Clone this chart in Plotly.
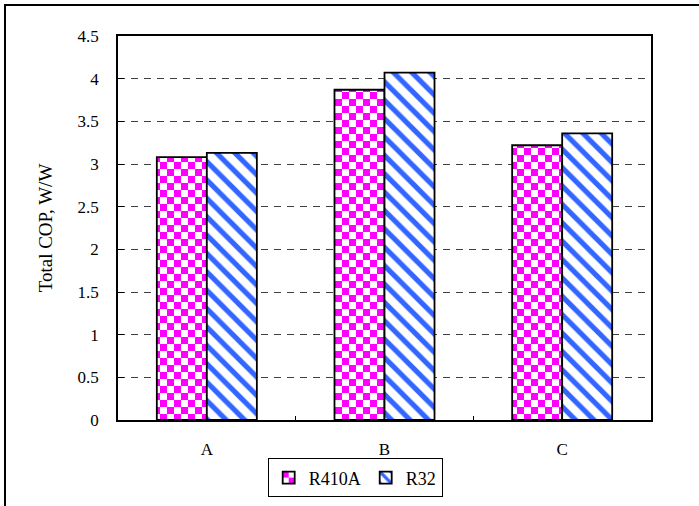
import plotly.graph_objects as go

categories = ["A", "B", "C"]
r410a_values = [3.08, 3.87, 3.22]
r32_values = [3.13, 4.07, 3.36]
series_names = ["R410A", "R32"]
y_tick_values = [0, 0.5, 1, 1.5, 2, 2.5, 3, 3.5, 4, 4.5]
y_tick_labels = ["0", "0.5", "1", "1.5", "2", "2.5", "3", "3.5", "4", "4.5"]
y_title = "Total COP, W/W"

FONT = "Liberation Serif"

fig = go.Figure()
fig.add_trace(go.Bar(
    x=categories, y=r410a_values, name=series_names[0],
    marker=dict(
        color="#FFFFFF",
        line=dict(color="black", width=1.8),
        pattern=dict(shape="+", fgcolor="#FF00FF", bgcolor="#FFFFFF",
                     size=7, solidity=0.5, fillmode="overlay", fgopacity=1),
    ),
))
fig.add_trace(go.Bar(
    x=categories, y=r32_values, name=series_names[1],
    marker=dict(
        color="#FFFFFF",
        line=dict(color="black", width=1.8),
        pattern=dict(shape="\\", fgcolor="#3366FF", bgcolor="#FFFFFF",
                     size=13, solidity=0.4, fillmode="overlay", fgopacity=1),
    ),
))

fig.update_layout(
    width=699, height=506,
    margin=dict(l=118, r=48, t=36, b=86, autoexpand=False),
    paper_bgcolor="white", plot_bgcolor="white",
    barmode="group", bargap=0.437, bargroupgap=0,
    font=dict(family=FONT, size=16, color="black"),
    showlegend=True,
    legend=dict(
        orientation="h", x=0.445, xanchor="center", y=-0.1, yanchor="top",
        bordercolor="black", borderwidth=1, bgcolor="white",
        font=dict(family=FONT, size=18), itemwidth=30,
    ),
    xaxis=dict(
        showline=True, linecolor="black", linewidth=1.5, mirror=True,
        ticks="inside", tickson="boundaries", ticklen=4, tickcolor="black",
        showgrid=False, tickfont=dict(family=FONT, size=17),
        ticklabelstandoff=13,
    ),
    yaxis=dict(
        range=[0, 4.5], tickvals=y_tick_values, ticktext=y_tick_labels,
        showline=True, linecolor="black", linewidth=1.5, mirror=True,
        ticks="inside", ticklen=6, tickcolor="black",
        showgrid=True, gridcolor="#404040", gridwidth=1, griddash="7px,6px",
        zeroline=False, tickfont=dict(family=FONT, size=17),
        ticklabelstandoff=14,
        title=dict(text=y_title, font=dict(family=FONT, size=19), standoff=20),
        automargin=False,
    ),
    shapes=[dict(
        type="rect", xref="paper", yref="paper",
        x0=(5 - 118) / 533, x1=1.2, y0=-0.5, y1=(420 - 5) / 384,
        line=dict(color="black", width=2), fillcolor="rgba(0,0,0,0)", layer="above",
    )],
)

post_script = """
document.body.style.margin = '0';
(function(){
  var ns = 'http://www.w3.org/2000/svg';
  function isMagenta(p){
    var h = (p.outerHTML || '').toLowerCase().replace(/\\s/g, '');
    return h.indexOf('ff00ff') >= 0 || h.indexOf('255,0,255') >= 0;
  }
  function fix(){
    var pats = document.getElementsByTagName('pattern');
    for(var i = 0; i < pats.length; i++){
      var p = pats[i];
      if(p.getAttribute('data-checker') === '1') continue;
      if(!isMagenta(p)) continue;
      var s = 7;
      while(p.firstChild) p.removeChild(p.firstChild);
      p.setAttribute('width', 2*s);
      p.setAttribute('height', 2*s);
      p.setAttribute('data-checker', '1');
      var rects = [[0,0,2*s,2*s,'#FFFFFF'],[0,0,s,s,'#FF00FF'],[s,s,s,s,'#FF00FF']];
      for(var j = 0; j < rects.length; j++){
        var r = rects[j];
        var e = document.createElementNS(ns, 'rect');
        e.setAttribute('x', r[0]); e.setAttribute('y', r[1]);
        e.setAttribute('width', r[2]); e.setAttribute('height', r[3]);
        e.setAttribute('fill', r[4]);
        p.appendChild(e);
      }
    }
  }
  fix();
  setTimeout(fix, 20);
  setTimeout(fix, 200);
})();
"""

fig.write_html("out.html", post_script=post_script, config={"displayModeBar": False})
